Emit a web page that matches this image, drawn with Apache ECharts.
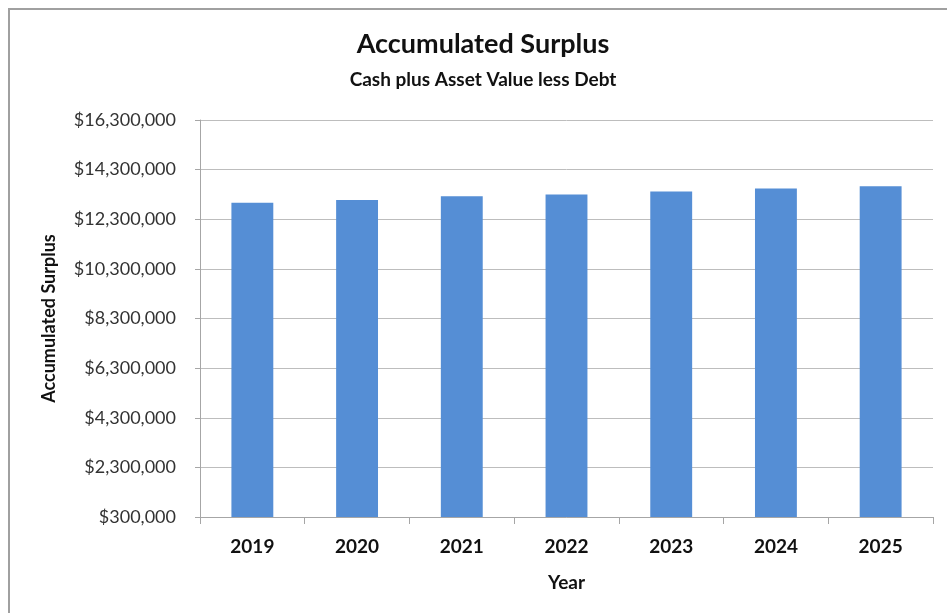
<!DOCTYPE html>
<html>
<head>
<meta charset="utf-8">
<script src="https://cdn.jsdelivr.net/npm/echarts@6/dist/echarts.min.js"></script>
<style>
    html, body { margin: 0; padding: 0; background: #fff; overflow: hidden; }
    #wrap { position: relative; width: 947px; height: 613px; overflow: hidden; }
    #chart { width: 947px; height: 613px; }
    #frame {
        position: absolute; left: 8px; top: 8px; right: 0; bottom: 0;
        border-left: 2px solid #a0a0a0; border-top: 2px solid #a0a0a0;
        pointer-events: none;
    }
</style>
</head>
<body>
<div id="wrap">
    <div id="chart"></div>
    <div id="frame"></div>
</div>
<script>
// Chart data
const years = ['2019', '2020', '2021', '2022', '2023', '2024', '2025'];
const surplus = [12960000, 13080000, 13230000, 13300000, 13420000, 13540000, 13630000];

// Axis starts at $300,000 and steps by $2,000,000
const axisBase = 300000;
const axisStep = 2000000;
const axisSpan = 16000000;

const fontFamily = 'Lato, "Open Sans", sans-serif';

const chart = echarts.init(document.getElementById('chart'));

// Bars are drawn as offset from the axis base so ticks land on base + n*step
const option = {
    animation: false,
    title: {
        text: 'Accumulated Surplus',
        subtext: 'Cash plus Asset Value less Debt',
        left: 478,
        textAlign: 'center',
        top: 26,
        itemGap: 12,
        textStyle: { fontFamily, fontSize: 27, fontWeight: 'bold', color: '#111' },
        subtextStyle: { fontFamily, fontSize: 19, fontWeight: 'bold', color: '#111' }
    },
    grid: {
        left: 200,
        right: 14,
        top: 120,
        bottom: 96
    },
    xAxis: {
        type: 'category',
        data: years,
        name: 'Year',
        nameLocation: 'middle',
        nameGap: 56,
        nameTextStyle: { fontFamily, fontSize: 19, fontWeight: 'bold', color: '#111' },
        axisLine: { lineStyle: { color: '#a6a6a6', width: 1 } },
        axisTick: { show: true, length: 7, lineStyle: { color: '#a6a6a6' } },
        axisLabel: { fontFamily, fontSize: 19, fontWeight: 'bold', color: '#111', margin: 20 }
    },
    yAxis: {
        type: 'value',
        min: 0,
        max: axisSpan,
        interval: axisStep,
        name: 'Accumulated Surplus',
        nameLocation: 'middle',
        nameGap: 142,
        nameTextStyle: { fontFamily, fontSize: 18, fontWeight: 'bold', color: '#111' },
        axisLine: { show: true, lineStyle: { color: '#a6a6a6', width: 1 } },
        axisTick: { show: true, length: 5, lineStyle: { color: '#a6a6a6' } },
        axisLabel: {
            fontFamily,
            fontSize: 18,
            color: '#333',
            margin: 24,
            formatter: v => '$' + (v + axisBase).toLocaleString('en-US')
        },
        splitLine: { lineStyle: { color: '#bdbdbd', width: 1 } }
    },
    series: [
        {
            name: 'Accumulated Surplus',
            type: 'bar',
            data: surplus.map(v => v - axisBase),
            barWidth: '40%',
            itemStyle: { color: '#558ed5' }
        }
    ]
};

chart.setOption(option);
</script>
</body>
</html>
